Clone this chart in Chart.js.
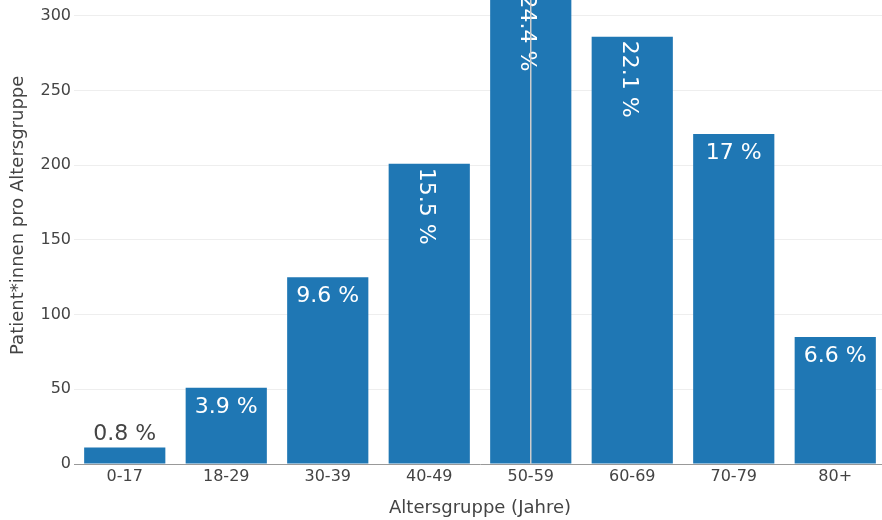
<!DOCTYPE html>
<html>
<head>
<meta charset="utf-8">
<script src="https://cdn.jsdelivr.net/npm/chart.js@4.4.0/dist/chart.umd.min.js"></script>
<style>
  html, body { margin: 0; padding: 0; background: #fff; overflow: hidden; width: 882px; height: 520px; }
  #wrap { position: absolute; left: 0; top: -46px; }
</style>
</head>
<body>
<div id="wrap"><canvas id="ageChart" width="886" height="566"></canvas></div>
<script>
const ageGroups = ['0-17', '18-29', '30-39', '40-49', '50-59', '60-69', '70-79', '80+'];
const patientCounts = [11, 51, 125, 201, 317, 286, 221, 85];
const shareLabels = ['0.8 %', '3.9 %', '9.6 %', '15.5 %', '24.4 %', '22.1 %', '17 %', '6.6 %'];
const yMax = 333;
const yStep = 50;
const spikeIndex = 4;

const FONT = '"DejaVu Sans", Verdana, sans-serif';

// percent labels, inside the bar when they fit, rotated when too wide
const barLabels = {
    id: 'barLabels',
    afterDatasetsDraw(chart) {
        const ctx = chart.ctx;
        const meta = chart.getDatasetMeta(0);
        const size = 22;
        const capH = size * 0.73;
        ctx.save();
        ctx.font = size + 'px ' + FONT;
        meta.data.forEach((bar, i) => {
            const text = shareLabels[i];
            const w = ctx.measureText(text).width;
            const barH = bar.base - bar.y;
            if (barH < capH + 16) {
                ctx.fillStyle = '#444';
                ctx.textAlign = 'center';
                ctx.textBaseline = 'alphabetic';
                ctx.fillText(text, bar.x, bar.y - 8);
            } else if (w > bar.width - 8) {
                ctx.save();
                ctx.translate(bar.x, bar.y + 4);
                ctx.rotate(Math.PI / 2);
                ctx.fillStyle = '#fff';
                ctx.textAlign = 'left';
                ctx.textBaseline = 'alphabetic';
                ctx.fillText(text, 0, capH / 2 + 1.5);
                ctx.restore();
            } else {
                ctx.fillStyle = '#fff';
                ctx.textAlign = 'center';
                ctx.textBaseline = 'alphabetic';
                ctx.fillText(text, bar.x, bar.y + 25);
            }
        });
        ctx.restore();
    }
};

// thin grey spike line through the 50-59 bar
const spikeLine = {
    id: 'spikeLine',
    afterDraw(chart) {
        const ctx = chart.ctx;
        const bar = chart.getDatasetMeta(0).data[spikeIndex];
        const area = chart.chartArea;
        ctx.save();
        ctx.strokeStyle = 'rgba(205,205,205,1)';
        ctx.lineWidth = 1.5;
        ctx.beginPath();
        ctx.moveTo(bar.x, area.top);
        ctx.lineTo(bar.x, area.bottom);
        ctx.stroke();
        ctx.restore();
    }
};

new Chart(document.getElementById('ageChart').getContext('2d'), {
    type: 'bar',
    data: {
        labels: ageGroups,
        datasets: [{
            data: patientCounts,
            backgroundColor: '#1f77b4',
            borderWidth: 0,
            categoryPercentage: 1.0,
            barPercentage: 0.8
        }]
    },
    options: {
        responsive: false,
        animation: false,
        layout: { padding: 0 },
        plugins: {
            legend: { display: false },
            tooltip: { enabled: false }
        },
        scales: {
            x: {
                grid: { display: false, drawTicks: false },
                border: { display: true, color: '#999', width: 1 },
                ticks: { color: '#444', font: { family: FONT, size: 16 }, padding: 3, maxRotation: 0 },
                title: {
                    display: true,
                    text: 'Altersgruppe (Jahre)',
                    color: '#444',
                    font: { family: FONT, size: 18 },
                    padding: { top: 0, bottom: 1 }
                },
                afterFit(scale) { scale.height = 56; }
            },
            y: {
                min: 0,
                max: yMax,
                grid: {
                    drawTicks: false,
                    color: (c) => c.tick && c.tick.value === 0 ? 'rgba(0,0,0,0)' : '#eee'
                },
                border: { display: false },
                ticks: {
                    stepSize: yStep,
                    includeBounds: false,
                    color: '#444',
                    font: { family: FONT, size: 16 },
                    padding: 3
                },
                title: {
                    display: true,
                    text: 'Patient*innen pro Altersgruppe',
                    color: '#444',
                    font: { family: FONT, size: 18 },
                    padding: { top: 8, bottom: 0 }
                },
                afterFit(scale) { scale.width = 74; }
            }
        }
    },
    plugins: [barLabels, spikeLine]
});
</script>
</body>
</html>
